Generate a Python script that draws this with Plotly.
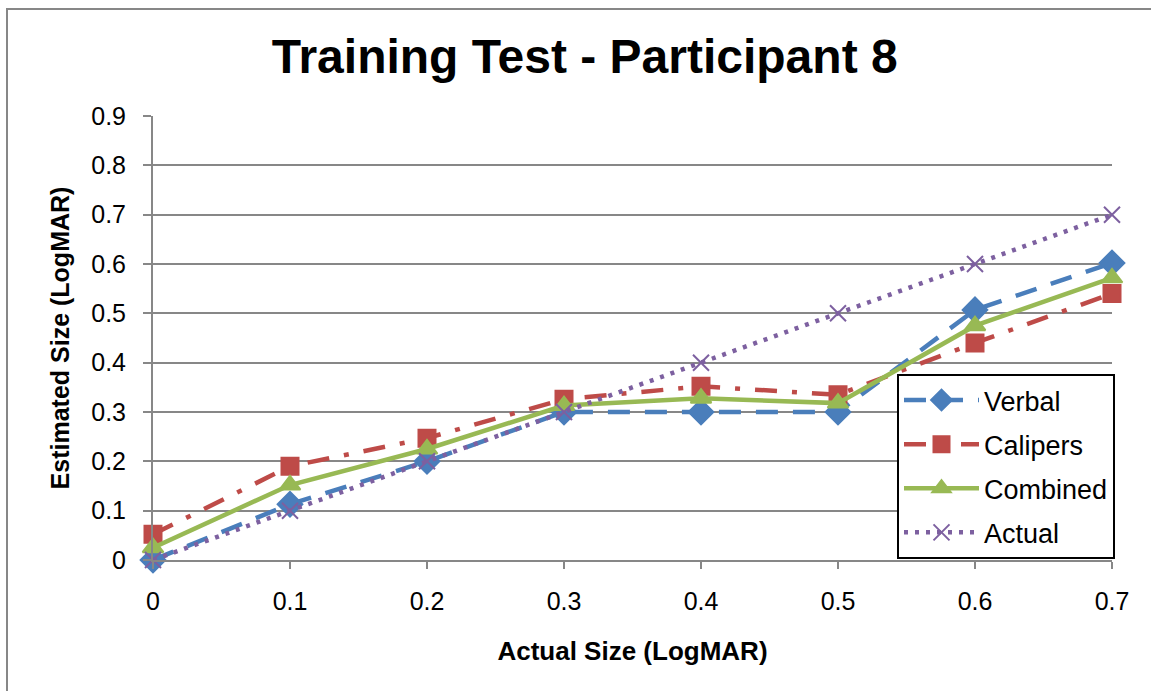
import plotly.graph_objects as go

# Actual letter size presented (LogMAR)
actual_size = [0.0, 0.1, 0.2, 0.3, 0.4, 0.5, 0.6, 0.7]
tick_labels = ["0", "0.1", "0.2", "0.3", "0.4", "0.5", "0.6", "0.7"]

# Estimated sizes per method (LogMAR)
verbal = [0.0, 0.113, 0.2, 0.3, 0.3, 0.3, 0.507, 0.602]
calipers = [0.052, 0.19, 0.247, 0.326, 0.352, 0.335, 0.44, 0.54]
combined = [0.025, 0.152, 0.225, 0.313, 0.328, 0.318, 0.475, 0.572]
actual = [0.0, 0.1, 0.2, 0.3, 0.4, 0.5, 0.6, 0.7]

y_ticks = [0.0, 0.1, 0.2, 0.3, 0.4, 0.5, 0.6, 0.7, 0.8, 0.9]
y_tick_labels = ["0", "0.1", "0.2", "0.3", "0.4", "0.5", "0.6", "0.7", "0.8", "0.9"]

FONT = "Arial, Liberation Sans, sans-serif"
GRID = "#878787"

series = [
    ("Verbal", verbal, "#4A7EBB", "22px,15px", "diamond", 19),
    ("Calipers", calipers, "#BE4B48", "22px,15px,5px,15px", "square", 17),
    ("Combined", combined, "#98B954", "solid", "triangle-up", 18),
    ("Actual", actual, "#7D60A0", "4px,7px", "x-thin", 16),
]

fig = go.Figure()
for name, values, color, dash, symbol, size in series:
    fig.add_trace(go.Scatter(
        x=actual_size,
        y=values,
        name=name,
        legendgroup=name,
        mode="lines+markers",
        line=dict(color=color, width=4.5, dash=dash),
        marker=dict(
            symbol=symbol,
            size=size,
            color=color,
            line=dict(color=color, width=2),
        ),
        cliponaxis=False,
    ))

fig.update_layout(
    width=1151,
    height=691,
    margin=dict(l=153, r=39, t=116, b=131),
    paper_bgcolor="white",
    plot_bgcolor="white",
    font=dict(family=FONT, color="black"),
    title=dict(
        text="<b>Training Test - Participant 8</b>",
        font=dict(size=48, family=FONT, color="black"),
        x=0.508,
        xanchor="center",
        y=0.918,
        yanchor="middle",
    ),
    xaxis=dict(
        range=[0, 0.7],
        tickvals=actual_size,
        ticktext=tick_labels,
        tickfont=dict(size=25, family=FONT, color="black"),
        ticks="outside",
        ticklen=7,
        tickwidth=2,
        tickcolor=GRID,
        ticklabelstandoff=11,
        showgrid=False,
        showline=True,
        linecolor=GRID,
        linewidth=2,
        zeroline=False,
        title=dict(
            text="<b>Actual Size (LogMAR)</b>",
            font=dict(size=26, family=FONT, color="black"),
            standoff=28,
        ),
    ),
    yaxis=dict(
        range=[0, 0.9],
        tickvals=y_ticks,
        ticktext=y_tick_labels,
        tickfont=dict(size=25, family=FONT, color="black"),
        ticks="outside",
        ticklen=8,
        tickwidth=2,
        tickcolor=GRID,
        ticklabelstandoff=12,
        showgrid=True,
        gridcolor=GRID,
        gridwidth=2,
        showline=True,
        linecolor=GRID,
        linewidth=2,
        zeroline=False,
        title=dict(
            text="<b>Estimated Size (LogMAR)</b>",
            font=dict(size=25, family=FONT, color="black"),
            standoff=14,
        ),
    ),
    legend=dict(
        x=(897 - 153) / 959,
        y=(560 - 374) / 444,
        xanchor="left",
        yanchor="top",
        bgcolor="white",
        bordercolor="black",
        borderwidth=2,
        font=dict(size=27, family=FONT, color="black"),
        itemwidth=75,
        tracegroupgap=6,
    ),
    shapes=[
        dict(
            type="rect",
            xref="paper",
            yref="paper",
            x0=(7 - 153) / 959,
            x1=(1170 - 153) / 959,
            y0=(560 - 710) / 444,
            y1=(560 - 9) / 444,
            line=dict(color=GRID, width=2),
            fillcolor="rgba(0,0,0,0)",
            layer="below",
        )
    ],
)

fig.write_html("out.html")
